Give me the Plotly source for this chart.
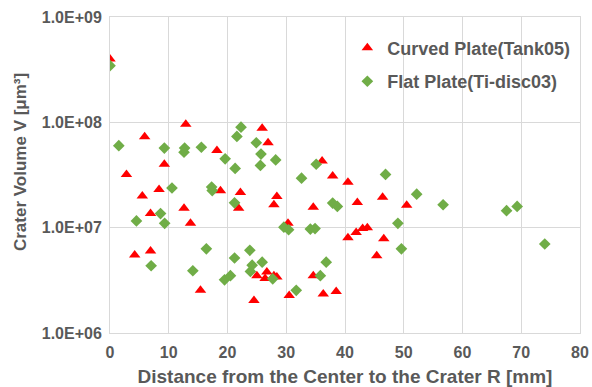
import plotly.graph_objects as go

# Curved Plate (Tank05)
curved_r = [0.0, 2.8, 4.2, 5.5, 5.9, 6.9, 6.9, 8.35, 9.25, 12.6, 12.9, 13.7, 15.4, 18.2, 18.8,
            21.9, 22.2, 24.5, 25.0, 25.9, 26.4, 26.7, 26.9, 27.9, 27.9, 28.4, 28.4, 30.3, 30.5,
            34.6, 34.6, 36.1, 36.3, 37.9, 38.5, 40.5, 40.5, 41.9, 42.1, 43.0, 43.8, 45.4, 46.4,
            46.6, 50.5]
curved_v = [4.0e8, 3.2e7, 5.5e6, 2.0e7, 7.3e7, 1.36e7, 6.0e6, 2.3e7, 4.0e7, 1.53e7, 9.6e7, 1.1e7,
            2.55e6, 5.4e7, 2.24e7, 1.53e7, 2.16e7, 2.04e6, 3.5e6, 8.8e7, 3.3e6, 3.8e6, 6.4e7,
            1.65e7, 3.5e6, 1.98e7, 3.4e6, 1.1e7, 2.27e6, 1.56e7, 3.5e6, 4.3e7, 2.34e6, 3.1e7,
            2.48e6, 2.7e7, 8.0e6, 9.0e6, 1.73e7, 9.8e6, 1.0e7, 5.4e6, 1.94e7, 7.85e6, 1.63e7]

# Flat Plate (Ti-disc03)
flat_r = [0.0, 1.5, 4.5, 7.0, 8.6, 9.25, 9.3, 10.55, 12.6, 12.7, 14.1, 15.55, 16.4, 17.3, 17.4,
          19.5, 19.6, 20.5, 21.2, 21.2, 21.3, 21.6, 22.3, 23.8, 23.9, 24.2, 24.9, 25.6, 25.7,
          25.9, 27.7, 28.2, 29.6, 30.4, 31.7, 32.6, 34.1, 34.9, 35.1, 35.8, 36.8, 37.9, 38.7,
          46.9, 49.0, 49.6, 52.2, 56.7, 67.5, 69.3, 74.0]
flat_v = [3.45e8, 6.0e7, 1.16e7, 4.35e6, 1.36e7, 5.7e7, 1.1e7, 2.38e7, 5.2e7, 5.7e7, 3.9e6, 5.8e7,
          6.3e6, 2.43e7, 2.25e7, 3.2e6, 4.5e7, 3.5e6, 1.72e7, 5.15e6, 3.65e7, 7.35e7, 9.0e7,
          6.1e6, 3.84e6, 4.4e6, 6.4e7, 3.9e7, 5.0e7, 4.7e6, 3.27e6, 4.4e7, 1.01e7, 9.55e6,
          2.54e6, 2.95e7, 9.7e6, 9.8e6, 4.0e7, 3.5e6, 4.7e6, 1.71e7, 1.59e7, 3.2e7, 1.1e7,
          6.3e6, 2.08e7, 1.65e7, 1.45e7, 1.59e7, 7.0e6]

x_ticks = [0, 10, 20, 30, 40, 50, 60, 70, 80]
y_tickvals = [1e6, 1e7, 1e8, 1e9]
y_ticktext = ["1.0E+06", "1.0E+07", "1.0E+08", "1.0E+09"]

FONT = "Liberation Sans, Arial, sans-serif"
GRAY = "#595959"
GRID = "#d9d9d9"

def bold(s):
    return "<b>" + str(s) + "</b>"

fig = go.Figure()
fig.add_trace(go.Scatter(
    x=curved_r, y=curved_v, mode="markers", name=bold("Curved Plate(Tank05)"),
    legendgroup="a",
    marker=dict(symbol="triangle-up", size=10, color="#ff0000"),
))
fig.add_trace(go.Scatter(
    x=flat_r, y=flat_v, mode="markers", name=bold("Flat Plate(Ti-disc03)"),
    legendgroup="b",
    marker=dict(symbol="diamond", size=9, color="#70ad47"),
))

fig.update_layout(
    width=592, height=387,
    margin=dict(l=110, r=12, t=17, b=54),
    paper_bgcolor="white", plot_bgcolor="white",
    font=dict(family=FONT, color=GRAY),
    showlegend=True,
    legend=dict(
        x=0.505, y=0.96, xanchor="left", yanchor="top",
        font=dict(family=FONT, size=18, color=GRAY),
        bgcolor="rgba(0,0,0,0)", tracegroupgap=7, itemwidth=30,
    ),
    xaxis=dict(
        range=[0, 80], tickvals=x_ticks, ticktext=[bold(t) for t in x_ticks],
        showgrid=True, gridcolor=GRID, gridwidth=1,
        showline=True, linecolor=GRID, linewidth=1, mirror=True,
        zeroline=False, ticks="", automargin=False, ticklabelstandoff=5,
        tickfont=dict(family=FONT, size=16, color=GRAY),
        title=dict(text=bold("Distance from the Center to the Crater R [mm]"),
                   font=dict(family=FONT, size=19, color=GRAY)),
    ),
    yaxis=dict(
        type="log", range=[6, 9], tickvals=y_tickvals, ticktext=[bold(t) for t in y_ticktext],
        showgrid=True, gridcolor=GRID, gridwidth=1,
        showline=True, linecolor=GRID, linewidth=1, mirror=True,
        zeroline=False, ticks="", automargin=False, ticklabelstandoff=4,
        tickfont=dict(family=FONT, size=16, color=GRAY),
    ),
    annotations=[dict(
        text=bold("Crater Volume V [μm³]"), textangle=-90,
        xref="paper", yref="paper", x=-0.1915, y=0.541,
        xanchor="center", yanchor="middle", showarrow=False,
        font=dict(family=FONT, size=17, color=GRAY),
    )],
)

fig.write_html("out.html", config={"displayModeBar": False},
               post_script="document.body.style.margin='0';document.body.style.padding='0';")
